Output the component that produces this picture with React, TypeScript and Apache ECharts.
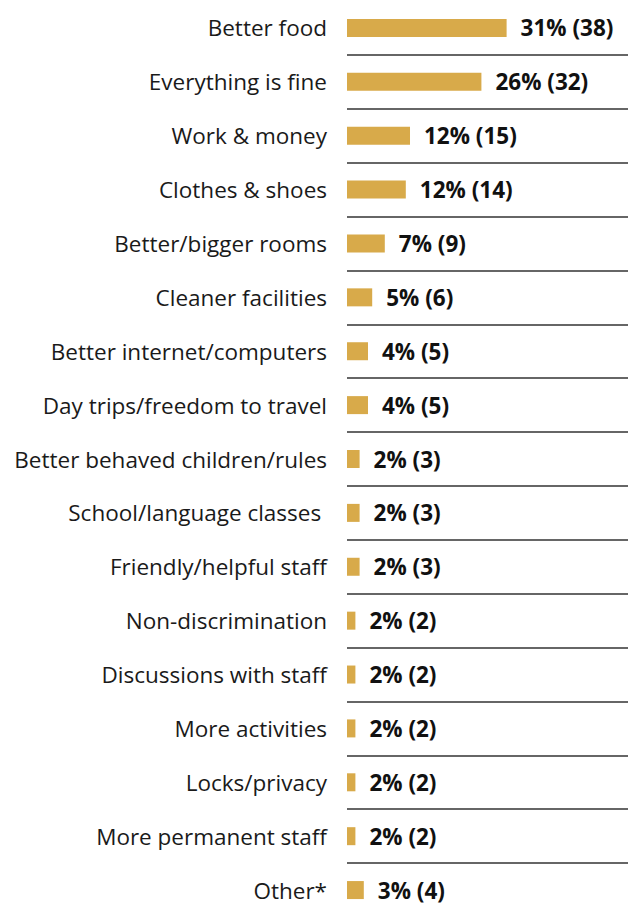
import React, { useEffect, useRef } from "react";
import * as echarts from "echarts";

const categories = [
  "Better food",
  "Everything is fine",
  "Work & money",
  "Clothes & shoes",
  "Better/bigger rooms",
  "Cleaner facilities",
  "Better internet/computers",
  "Day trips/freedom to travel",
  "Better behaved children/rules",
  "School/language classes ",
  "Friendly/helpful staff",
  "Non-discrimination",
  "Discussions with staff",
  "More activities",
  "Locks/privacy",
  "More permanent staff",
  "Other*",
];
const counts = [38, 32, 15, 14, 9, 6, 5, 5, 3, 3, 3, 2, 2, 2, 2, 2, 4];
const percents = [31, 26, 12, 12, 7, 5, 4, 4, 2, 2, 2, 2, 2, 2, 2, 2, 3];

export default function App() {
  const ref = useRef<HTMLDivElement>(null);
  useEffect(() => {
    document.body.style.margin = "0";
    const chart = echarts.init(ref.current!, null, { renderer: "svg" });
    chart.setOption({
      animation: false,
      backgroundColor: "#ffffff",
      grid: { left: 347, right: 0, top: 1, bottom: 0, containLabel: false },
      xAxis: {
        type: "value",
        min: 0,
        max: 66.9,
        show: false,
      },
      yAxis: {
        type: "category",
        data: categories,
        inverse: true,
        axisLine: { show: false },
        axisTick: { show: false },
        axisLabel: {
          margin: 20,
          fontSize: 22.5,
          color: "#1a1a1a",
          fontFamily: "Open Sans",
        },
        splitLine: {
          show: true,
          showMinLine: false,
          showMaxLine: false,
          lineStyle: { color: "#333333", width: 1.5 },
        },
      },
      series: [
        {
          type: "bar",
          data: counts,
          barWidth: 18,
          itemStyle: { color: "#D8AA4A" },
          label: {
            show: true,
            position: "right",
            distance: 14,
            fontSize: 22.5,
            fontWeight: "bold",
            color: "#111111",
            fontFamily: "Open Sans",
            formatter: (p: any) => `${percents[p.dataIndex]}% (${counts[p.dataIndex]})`,
          },
        },
      ],
    });
    return () => chart.dispose();
  }, []);
  return (
    <div style={{ width: 628, height: 904, overflow: "hidden" }}>
      <div ref={ref} style={{ width: 628, height: 917 }} />
    </div>
  );
}
